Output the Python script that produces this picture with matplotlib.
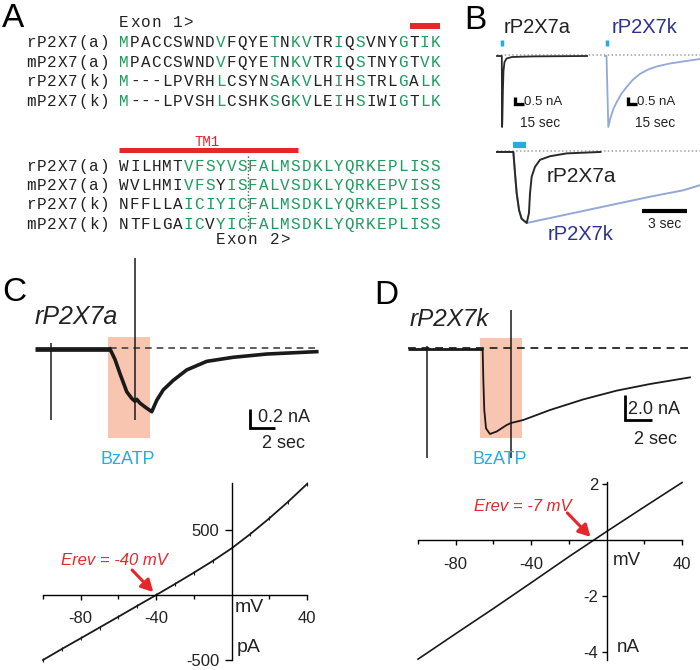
import matplotlib
matplotlib.use("Agg")
import matplotlib.pyplot as plt
from matplotlib.patches import Rectangle

plt.rcParams['axes.unicode_minus'] = False
SANS = ['Liberation Sans', 'DejaVu Sans']
MONO = ['Liberation Mono', 'DejaVu Sans Mono']
plt.rcParams['font.family'] = SANS

# ---------------- data ----------------
seq_labels = ["rP2X7(a)", "mP2X7(a)", "rP2X7(k)", "mP2X7(k)"]
exon1_seqs = ["MPACCSWNDVFQYETNKVTRIQSVNYGTIK",
              "MPACCSWNDVFQYETNKVTRIQSTNYGTVK",
              "M---LPVRHLCSYNSAKVLHIHSTRLGALK",
              "M---LPVSHLCSHKSGKVLEIHSIWIGTLK"]
exon2_seqs = ["WILHMTVFSYVSFALMSDKLYQRKEPLISS",
              "WVLHMIVFSYISFALVSDKLYQRKEPVISS",
              "NFFLLAICIYICFALMSDKLYQRKEPLISS",
              "NTFLGAICVYICFALMSDKLYQRKEPLISS"]
exon1_green = [0, 9, 14, 16, 17, 20, 22, 26, 28, 29]
exon2_shared_green = list(range(12, 30))
exon2_row_green = [[6, 7, 8, 9, 10, 11], [6, 7, 8, 10, 11],
                   [6, 7, 8, 9, 10, 11], [6, 7, 9, 10, 11]]
exon_titles = ["Exon 1>", "Exon 2>"]
tm_label = "TM1"

# Panel B (top: sec / nA ; bottom: sec / normalised)
b_top_a_t = [0, 8.0, 8.5, 9.0, 9.8, 10.8, 12.5, 16, 25, 60, 150]
b_top_a_i = [0, 0, -7.1, -6.2, -3.5, -1.5, -0.6, -0.25, -0.1, -0.04, 0]
b_top_k_t = [0, 2.5, 5.5, 9, 13.9, 19.5, 27, 36, 46, 58, 72, 86, 108, 130, 158]
b_top_k_i = [0, 0, -7.1, -6.2, -5.3, -4.6, -3.8, -3.1, -2.4, -1.8, -1.35, -1.05, -0.75, -0.55, -0.3]
b_bot_a_t = [0, 1.09, 1.2, 1.31, 1.47, 1.64, 1.98, 2.13, 2.2, 2.31, 2.53, 2.87, 3.53, 4.64, 6.9]
b_bot_a_i = [0, 0, -0.3, -0.58, -0.82, -0.94, -1.0, -0.86, -0.58, -0.35, -0.21, -0.11, -0.06, -0.02, 0]
b_bot_k_t = [0, 1.09, 1.2, 1.31, 1.47, 1.64, 1.98, 3.53, 5.75, 7.98, 10.2, 12.4, 13.5]
b_bot_k_i = [0, 0, -0.3, -0.58, -0.82, -0.94, -1.0, -0.93, -0.83, -0.73, -0.63, -0.54, -0.47]

# Panel C trace (sec, nA)
c_t = [0, 6.0, 6.4, 6.8, 7.34, 7.74, 8.0, 8.14, 8.4, 8.8, 9.34, 9.74, 10.26, 11.06,
       12.14, 13.74, 15.86, 18.54, 22.54]
c_i = [0, 0, -0.11, -0.26, -0.45, -0.52, -0.55, -0.53, -0.57, -0.61, -0.66, -0.54,
       -0.43, -0.33, -0.22, -0.13, -0.087, -0.053, -0.028]
c_art_t = [1.28, 8.0]
c_art_top = [0.06, 0.96]
c_art_bot = [-0.75, -0.75]
c_bzatp = [5.84, 9.2]

# Panel D trace (sec, nA)
d_t = [0, 5.53, 5.58, 5.65, 5.78, 6.07, 6.57, 7.31, 7.63, 8.54, 10.52, 12.99,
       15.46, 17.93, 20.89]
d_i = [0, 0, -2.48, -4.88, -6.35, -6.8, -6.6, -6.08, -5.92, -5.68, -4.88, -4.03,
       -3.33, -2.8, -2.27]
d_art_t = [1.41, 7.63]
d_art_top = [0.25, 3.12]
d_art_bot = [-8.72, -8.72]
d_bzatp = [5.33, 8.44]

# I-V curves
iv_a_mv = [-100, -90, -80, -70, -60, -50, -40, -30, -20, -10, 0, 10, 20, 30, 40]
iv_a_pa = [-500, -415, -333, -250, -167, -83, 0, 85, 172, 262, 359, 470, 590, 718, 854]
iv_k_mv = [-100, -80, -60, -40, -20, 0, 20, 40]
iv_k_na = [-4.26, -3.35, -2.45, -1.53, -0.6, 0.3, 1.18, 2.05]
erev_a, erev_k = -40, -7
iv_xticks = [-80, -40, 40]
iv_xminor = [-100, -60, -20, 20]
iv_a_yticks = [-500, 500]
iv_k_yticks = [-4, -2, 2]

# ---------------- styles ----------------
W, H = 700, 670
GREEN = '#1d9c5f'
RED = '#e5262b'
CYAN = '#29abe2'
NAVY = '#2e3192'
LBLUE = '#93a8d6'
SALMON = '#f8c6b0'
INK = '#1a1a1a'

fig = plt.figure(figsize=(W / 100, H / 100), dpi=100)


def box(x0, y0, x1, y1):
    return [x0 / W, 1 - y1 / H, (x1 - x0) / W, (y1 - y0) / H]


def trace_ax(b, xl, yl):
    ax = fig.add_axes(box(*b))
    ax.set_xlim(*xl)
    ax.set_ylim(*yl)
    ax.set_axis_off()
    return ax


# ---- Panel B top ----
axbt = trace_ax((490, 35, 700, 135), (-11.67, 338.3), (-7.9, 2.1))
k_off = 180
axbt.plot([0, 338], [0.08, 0.08], color='#a0a0a0', lw=1.1, ls=(0, (1, 1.5)))
axbt.plot(b_top_a_t, b_top_a_i, color='#2a2a2a', lw=1.3)
axbt.plot([t + k_off for t in b_top_k_t], b_top_k_i, color=LBLUE, lw=1.3)
for tm in [8.3, k_off + 3.3]:
    axbt.plot([tm, tm], [1.0, 1.6], color=CYAN, lw=2.5, solid_capstyle='butt')
for t0 in [30, 218.3]:
    axbt.plot([t0, t0, t0 + 15], [-4.1, -4.8, -4.8], color='k', lw=2.4,
              solid_joinstyle='miter', solid_capstyle='butt')

# ---- Panel B bottom ----
axbb = trace_ax((490, 135, 700, 245), (-0.467, 13.53), (-1.31, 0.239))
axbb.plot([0, 13.5], [0.02, 0.02], color='#a0a0a0', lw=1.1, ls=(0, (1, 1.5)))
axbb.plot(b_bot_k_t, b_bot_k_i, color=LBLUE, lw=1.4)
axbb.plot(b_bot_a_t, b_bot_a_i, color='#2a2a2a', lw=1.4)
axbb.plot([1.07, 1.93], [0.1, 0.1], color=CYAN, lw=4.5, solid_capstyle='butt')
axbb.plot([9.67, 12.67], [-0.83, -0.83], color='k', lw=3, solid_capstyle='butt')

# ---- Panel C trace ----
axct = trace_ax((30, 250, 330, 450), (-0.4, 23.6), (-1.063, 1.042))
axct.add_patch(Rectangle((c_bzatp[0], -0.937), c_bzatp[1] - c_bzatp[0], 1.063,
                         color=SALMON, lw=0, zorder=0))
axct.plot([6.0, 22.6], [0.015, 0.015], color='#444444', lw=1.2, dashes=(4, 3))
axct.plot(c_t[:2], c_i[:2], color=INK, lw=3.4, solid_capstyle='butt')
axct.plot(c_t[1:], c_i[1:], color=INK, lw=2.6)
axct.vlines(c_art_t, c_art_bot, c_art_top, color=INK, lw=1.1)
axct.plot([17.2, 17.2, 19.2], [-0.632, -0.832, -0.832], color='k', lw=2,
          solid_joinstyle='miter', solid_capstyle='butt')

# ---- Panel D trace ----
axdt = trace_ax((400, 250, 700, 470), (-0.593, 21.63), (-9.68, 7.92))
axdt.add_patch(Rectangle((d_bzatp[0], -7.12), d_bzatp[1] - d_bzatp[0], 8.0,
                         color=SALMON, lw=0, zorder=0))
axdt.plot([0, 20.9], [0.08, 0.08], color='#333333', lw=1.4, dashes=(4, 3))
axdt.plot(d_t[:2], d_i[:2], color=INK, lw=2.0, solid_capstyle='butt')
axdt.plot(d_t[1:], d_i[1:], color=INK, lw=1.3)
axdt.vlines(d_art_t, d_art_bot, d_art_top, color=INK, lw=1.1)
axdt.plot([16.07, 16.07, 18.07], [-3.68, -5.68, -5.68], color='k', lw=2,
          solid_joinstyle='miter', solid_capstyle='butt')


# ---- I-V axes ----
def iv_axes(b, xl, yl, yticks, xpad, ypad, ylen):
    ax = fig.add_axes(box(*b))
    ax.set_xlim(*xl)
    ax.set_ylim(*yl)
    ax.patch.set_visible(False)
    for s in ['top', 'right']:
        ax.spines[s].set_visible(False)
    ax.spines['left'].set_position(('data', 0))
    ax.spines['bottom'].set_position(('data', 0))
    for s in ['left', 'bottom']:
        ax.spines[s].set_linewidth(1.0)
    ax.set_xticks(iv_xticks)
    ax.set_xticks(iv_xminor, minor=True)
    ax.set_yticks(yticks)
    ax.tick_params(axis='x', which='major', direction='out', length=3.8, width=1,
                   pad=xpad, labelsize=12)
    ax.tick_params(axis='x', which='minor', direction='out', length=2.6, width=1)
    ax.tick_params(axis='y', which='major', direction='out', length=ylen, width=1,
                   pad=ypad, labelsize=12)
    for lab in ax.get_xticklabels() + ax.get_yticklabels():
        lab.set_color('#222222')
    return ax


axci = iv_axes((43, 483, 307, 660), (-100, 40), (-500, 862), iv_a_yticks, 7.4, 3.6, 5)
axci.plot(iv_a_mv, iv_a_pa, color=INK, lw=1.3, marker='|', ms=3, mew=0.8, clip_on=False)
axci.annotate('', xy=(erev_a, 0), xytext=(-24, 25), textcoords='offset pixels',
              arrowprops=dict(arrowstyle='-|>,head_length=0.7,head_width=0.38',
                              color=RED, lw=2.2, shrinkA=0, shrinkB=3))

axdi = iv_axes((418, 482, 682, 660), (-100, 40), (-4.29, 2.07), iv_k_yticks, 8.8, 2.4, 3.6)
axdi.plot(iv_k_mv, iv_k_na, color=INK, lw=1.2, clip_on=False)
axdi.annotate('', xy=(erev_k, 0), xytext=(-26, 27), textcoords='offset pixels',
              arrowprops=dict(arrowstyle='-|>,head_length=0.7,head_width=0.38',
                              color=RED, lw=2.2, shrinkA=0, shrinkB=3))

# ---- overlay for text & annotations (pixel coordinates) ----
ov = fig.add_axes([0, 0, 1, 1])
ov.set_xlim(0, W)
ov.set_ylim(H, 0)
ov.set_axis_off()
ov.patch.set_visible(False)


def T(x, y, s, size, fam=SANS, cap=0.72, ha='left', **kw):
    px = size * 100 / 72
    ov.text(x, y + cap * px / 2, s, fontsize=size, family=fam, ha=ha,
            va='baseline', **kw)


# Panel letters
T(13, 15, 'A', 24, ha='center')
T(475, 17, 'B', 24, ha='center')
T(14, 289, 'C', 24, ha='center')
T(386, 292, 'D', 24, ha='center')

# Panel A alignment
pitch = 10.73
seq_x0 = 124
lab_x0, lab_pitch = 31, 10.45
rows1 = [42, 62, 81, 101]
rows2 = [166, 185, 204, 224]
MS = 11.5
MC = 0.6

for j, ch in enumerate(exon_titles[0]):
    T(seq_x0 + pitch * j, 22, ch, MS, MONO, MC, 'center', color='#222222')
for j, ch in enumerate(exon_titles[1]):
    T(seq_x0 + pitch * (9 + j), 239, ch, MS, MONO, MC, 'center', color='#222222')

for rows, seqs, block in [(rows1, exon1_seqs, 1), (rows2, exon2_seqs, 2)]:
    for r, (lab, seq) in enumerate(zip(seq_labels, seqs)):
        y = rows[r]
        for j, ch in enumerate(lab):
            T(lab_x0 + lab_pitch * j, y, ch, MS, MONO, MC, 'center', color='#222222')
        if block == 1:
            greens = set(exon1_green)
        else:
            greens = set(exon2_row_green[r]) | set(exon2_shared_green)
        for i, ch in enumerate(seq):
            T(seq_x0 + pitch * i, y, ch, MS, MONO, MC, 'center',
              color=GREEN if i in greens else '#222222')

ov.plot([410, 440], [26, 26], color=RED, lw=4.3, solid_capstyle='butt')
ov.plot([119, 298], [150, 150], color=RED, lw=3.6, solid_capstyle='butt')
T(207, 142, tm_label, 10, MONO, MC, 'center', color=RED)
ov.plot([248, 248], [156, 232], color='#555555', lw=1, ls=(0, (1, 1.5)))

# Panel B text
T(504, 26, 'rP2X7a', 14.5, color='#222222')
T(612, 26, 'rP2X7k', 14.5, color=NAVY)
T(524, 100, '0.5 nA', 9.5, color='#222222')
T(520, 122, '15 sec', 9.8, color='#222222')
T(637, 100, '0.5 nA', 9.5, color='#222222')
T(635, 122, '15 sec', 9.8, color='#222222')
T(547, 175, 'rP2X7a', 15, color='#222222')
T(548, 233, 'rP2X7k', 14.5, color=NAVY)
T(665, 223, '3 sec', 10, ha='center', color='#222222')

# Panel C/D trace text
T(35, 315, 'rP2X7a', 18, style='italic', color='#222222')
T(258, 416, '0.2 nA', 13, color='#222222')
T(283, 442, '2 sec', 13, ha='center', color='#222222')
T(100, 457, 'BzATP', 13, color=CYAN)
T(410, 317, 'rP2X7k', 17.5, style='italic', color='#222222')
T(628, 407, '2.0 nA', 13, color='#222222')
T(655, 437, '2 sec', 13, ha='center', color='#222222')
T(473, 457, 'BzATP', 13, color=CYAN)

# I-V text
T(235, 605, 'mV', 14, color='#222222')
T(237, 645, 'pA', 14, color='#222222')
T(114, 559, 'Erev = -40 mV', 12, ha='center', style='italic', color=RED)
T(613, 558, 'mV', 13.5, color='#222222')
T(617, 645, 'nA', 13.5, color='#222222')
T(523, 505, 'Erev = -7 mV', 12, ha='center', style='italic', color=RED)

fig.savefig('out.png', dpi=100)
